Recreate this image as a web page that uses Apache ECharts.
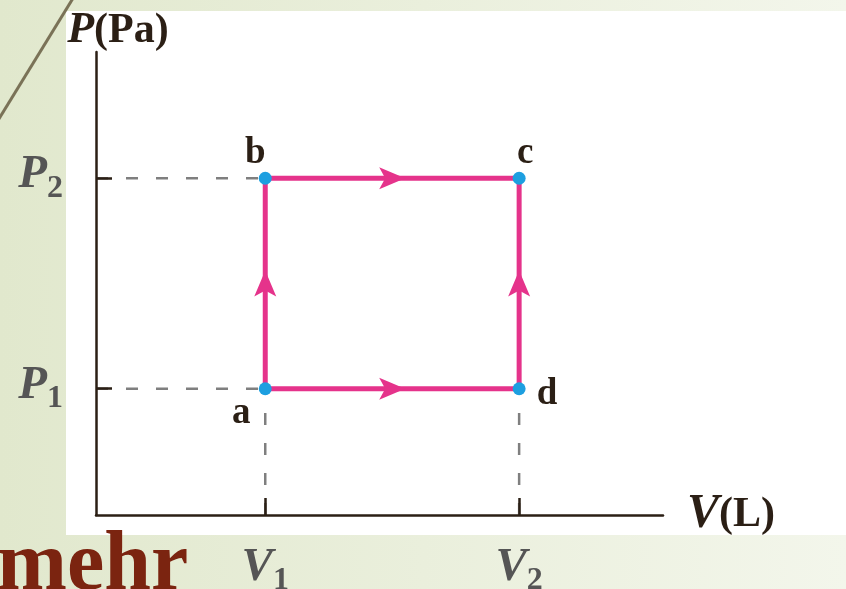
<!DOCTYPE html>
<html>
<head>
<meta charset="utf-8">
<script src="https://cdn.jsdelivr.net/npm/echarts@6/dist/echarts.min.js"></script>
<style>
  html, body { margin: 0; padding: 0; }
  #main { width: 846px; height: 589px; }
</style>
</head>
<body>
<div id="main"></div>
<script>
// ticks on the two axes
var vTicks = [2, 5];            // V1, V2
var pTicks = [3, 8];            // P1, P2
var vNames = [["V", "1"], ["V", "2"]];
var pNames = [["P", "1"], ["P", "2"]];
var xMax = 6.7;
var yMax = 11;

// state points of the cycle
var pointNames = ["a", "b", "c", "d"];
var pointV = [2, 2, 5, 5];
var pointP = [3, 8, 8, 3];
// path drawn a -> b -> c -> d -> a
var cycleOrder = [0, 1, 2, 3, 0];
// arrows: from, to
var arrowSegs = [[0, 1], [3, 2], [1, 2], [0, 3]];

var pink = "#e5338b";
var blue = "#1d9fe0";
var ink = "#2b1f15";
var grey = "#555555";
var serif = "'Liberation Serif', 'DejaVu Serif', serif";

var cycleData = cycleOrder.map(function (i) { return [pointV[i], pointP[i]]; });

var labelPos = {
  a: { position: "bottom", offset: [-24, 0], distance: 0 },
  b: { position: "top", offset: [-10, 0], distance: 0 },
  c: { position: "top", offset: [6, 0], distance: 0 },
  d: { position: "right", offset: [0, 6], distance: 11 }
};
var pointData = pointNames.map(function (n, i) {
  return { value: [pointV[i], pointP[i]], name: n, label: labelPos[n] };
});

var arrowData = arrowSegs.map(function (s) {
  var a = s[0], b = s[1];
  var mid = [(pointV[a] + pointV[b]) / 2, (pointP[a] + pointP[b]) / 2];
  // symbol points up; rotate for horizontal segments
  var rot = pointP[a] === pointP[b] ? -90 : 0;
  return { value: mid, symbolRotate: rot };
});

// dashed guides from axes to point a/b/d
function guide(p1, p2) {
  return {
    type: "line", data: [p1, p2], symbol: "none", silent: true, z: 1,
    lineStyle: { color: "#7f7f7f", width: 2.5, type: [12, 18] }
  };
}

var richTick = {
  m: { fontFamily: serif, fontSize: 47, fontWeight: "bold", fontStyle: "italic", color: grey, padding: [0, 0, 6, 0] },
  s: { fontFamily: serif, fontSize: 32, fontWeight: "bold", color: grey, verticalAlign: "bottom" }
};

var chart = echarts.init(document.getElementById("main"));
var option = {
  animation: false,
  backgroundColor: {
    type: "linear", x: 0, y: 0, x2: 1, y2: 0,
    colorStops: [{ offset: 0, color: "#e1e8cd" }, { offset: 1, color: "#f3f6eb" }]
  },
  graphic: [
    { type: "rect", shape: { x: 66, y: 11, width: 800, height: 524 }, style: { fill: "#ffffff" }, z: -10 },
    { type: "line", shape: { x1: 75, y1: -5, x2: -3, y2: 122 }, style: { stroke: "#7a7257", lineWidth: 3 }, z: -5 },
    {
      type: "text", left: -3, top: 525, z: 10,
      style: { text: "mehr", fill: "#7b2410", font: "bold 84px " + serif }
    }
  ],
  grid: { left: 96, top: 52, width: 567, height: 463, outerBoundsMode: "none" },
  xAxis: {
    type: "value", min: 0, max: xMax, z: 3,
    name: "{m|V}{s|(L)}",
    nameLocation: "end",
    nameGap: 24,
    nameTextStyle: {
      rich: {
        m: { fontFamily: serif, fontSize: 48, fontWeight: "bold", fontStyle: "italic", color: ink },
        s: { fontFamily: serif, fontSize: 42, fontWeight: "bold", color: ink }
      }
    },
    axisLine: { lineStyle: { color: ink, width: 2.5 } },
    axisTick: { customValues: vTicks, inside: true, length: 17, lineStyle: { color: ink, width: 2.5 } },
    axisLabel: {
      customValues: vTicks, margin: 29,
      formatter: function (v) {
        var n = vNames[vTicks.indexOf(v)];
        return "{m|" + n[0] + "}{s|" + n[1] + "}";
      },
      rich: richTick
    },
    splitLine: { show: false }
  },
  yAxis: {
    type: "value", min: 0, max: yMax, z: 3,
    name: "{m|P}{s|(Pa)}",
    nameLocation: "end",
    nameGap: -1,
    nameTextStyle: {
      align: "center",
      padding: [0, 0, 0, 44],
      rich: {
        m: { fontFamily: serif, fontSize: 44, fontWeight: "bold", fontStyle: "italic", color: ink },
        s: { fontFamily: serif, fontSize: 42, fontWeight: "bold", color: ink }
      }
    },
    axisLine: { lineStyle: { color: ink, width: 2.5 } },
    axisTick: { customValues: pTicks, inside: true, length: 16, lineStyle: { color: ink, width: 2.5 } },
    axisLabel: {
      customValues: pTicks, margin: 33,
      formatter: function (v) {
        var n = pNames[pTicks.indexOf(v)];
        return "{m|" + n[0] + "}{s|" + n[1] + "}";
      },
      rich: richTick
    },
    splitLine: { show: false }
  },
  series: [
    guide([0, pointP[1]], [pointV[1], pointP[1]]),
    guide([0, pointP[0]], [pointV[0], pointP[0]]),
    guide([pointV[0], 0], [pointV[0], pointP[0]]),
    guide([pointV[3], 0], [pointV[3], pointP[3]]),
    {
      type: "line", data: cycleData, symbol: "none", z: 4,
      lineStyle: { color: pink, width: 5 }
    },
    {
      type: "scatter", data: arrowData, z: 5,
      symbol: "path://M10,0 L20,26 L10,20 L0,26 Z",
      symbolSize: [22, 26],
      itemStyle: { color: pink, opacity: 1 }
    },
    {
      type: "scatter", data: pointData, z: 6,
      symbolSize: 13,
      itemStyle: { color: blue, opacity: 1 },
      label: {
        show: true,
        formatter: "{b}",
        fontFamily: serif, fontSize: 37, fontWeight: "bold", color: ink
      }
    }
  ]
};
chart.setOption(option);
</script>
</body>
</html>
